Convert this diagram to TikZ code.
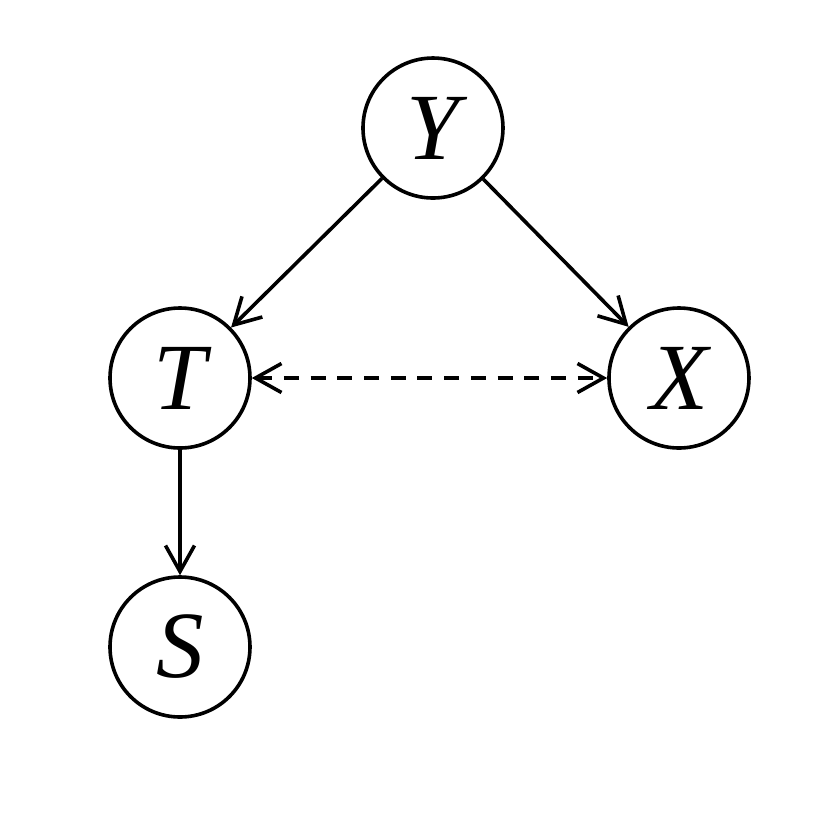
\documentclass[tikz,border=0pt]{standalone}
\usepackage{fontspec}
\setmainfont{Liberation Serif}
\usetikzlibrary{arrows.meta}
\begin{document}
\begin{tikzpicture}[
  var/.style={circle, draw, line width=0.36mm, minimum size=1.4cm, inner sep=0pt, font=\fontsize{27}{30}\selectfont\itshape},
  tip/.style={Straight Barb[length=2.6mm, width=2.9mm, line width=0.36mm]},
  edge/.style={line width=0.36mm, -{Straight Barb[length=2.6mm, width=2.9mm, line width=0.36mm]}},
  biedge/.style={line width=0.36mm, dash pattern=on 1.5mm off 1.17mm, {Straight Barb[length=2.6mm, width=2.9mm, line width=0.36mm]}-{Straight Barb[length=2.6mm, width=2.9mm, line width=0.36mm]}}
]
\useasboundingbox (0,0) rectangle (8.3,-8.3);
\node[var] (Y) at (4.33,-1.28) {Y};
\node[var] (T) at (1.80,-3.78) {T};
\node[var] (X) at (6.79,-3.78) {X};
\node[var] (S) at (1.80,-6.47) {S};
\draw[edge] (Y) -- (T);
\draw[edge] (Y) -- (X);
\draw[biedge] (T) -- (X);
\draw[edge] (T) -- (S);
\end{tikzpicture}
\end{document}
